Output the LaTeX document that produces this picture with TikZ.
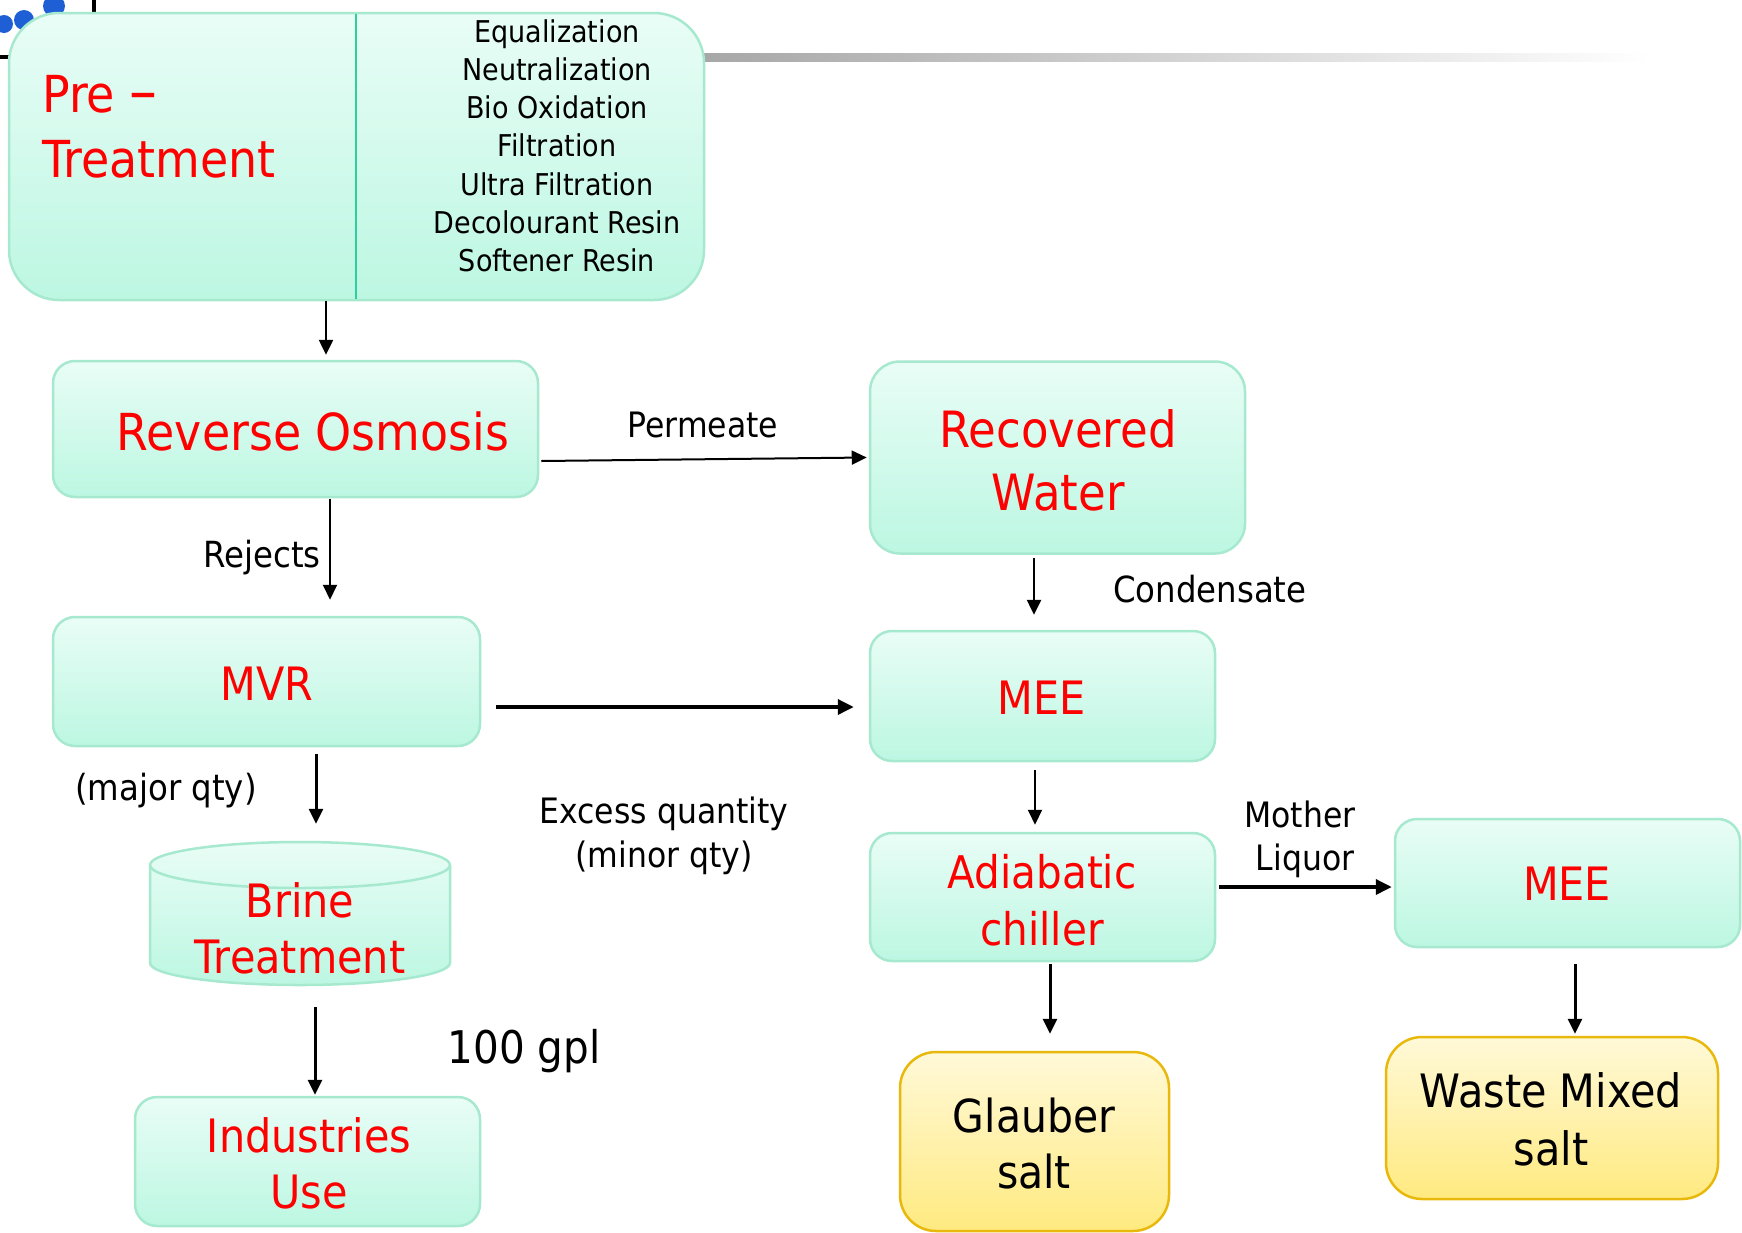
\documentclass[tikz,border=0pt]{standalone}
\usepackage{fontspec}
\setmainfont{DejaVu Sans}[FakeStretch=0.9]
\usetikzlibrary{arrows.meta,calc}

\definecolor{tealline}{HTML}{A6E9CF}
\definecolor{tealtop}{HTML}{E9FDF6}
\definecolor{tealbot}{HTML}{BCF7E2}
\definecolor{divider}{HTML}{2ECF9C}
\definecolor{goldline}{HTML}{E8B90C}
\definecolor{goldtop}{HTML}{FFF9D8}
\definecolor{goldbot}{HTML}{FFEA80}
\definecolor{dotblue}{HTML}{1F5FD6}

% stacked centred lines with a fixed baseline distance; baseline = first line
\newcommand\stk[2][60]{\vtop{\baselineskip=#1pt\halign{\hfil##\hfil\cr#2\crcr}}}
\newcommand\fsz[1]{\fontsize{#1}{#1}\selectfont}

\tikzset{
  tealbox/.style={draw=tealline, line width=2.5pt, top color=tealtop,
    bottom color=tealbot, rounded corners=22pt, inner sep=0pt},
  goldbox/.style={draw=goldline, line width=2.5pt, top color=goldtop,
    bottom color=goldbot, rounded corners=36pt, inner sep=0pt},
  redtxt/.style={text=red, inner sep=0pt, anchor=base},
  blktxt/.style={text=black, inner sep=0pt, anchor=base},
  arr/.style={-{Triangle[length=15pt,width=14pt]}, line width=2.5pt},
  arrthick/.style={-{Triangle[length=16pt,width=15pt]}, line width=3.5pt},
}

\begin{document}
\begin{tikzpicture}[x=1pt, y=-1pt]
\useasboundingbox (0,0) rectangle (1742,1232);

% slide decoration behind the first box
\fill[dotblue] (4,24) circle[radius=9pt];
\fill[dotblue] (24,20) circle[radius=10pt];
\fill[dotblue] (54,6) circle[radius=11pt];
\draw[line width=4pt] (94,0) -- (94,20);
\draw[line width=4pt] (0,57) -- (20,57);
\shade[left color=black!35, right color=white] (690,53) rectangle (1650,61);

% pre-treatment block
\node[tealbox, rounded corners=50pt, minimum width=695pt, minimum height=287pt]
  (pre) at (356.5,156.5) {};
\draw[divider, line width=2pt] (356,14) -- (356,299);
\node[redtxt, anchor=base west, align=left] (pretxt) at (42,112)
  {\fsz{51}\vtop{\baselineskip=65pt\hbox{Pre {\fontsize{62}{62}\selectfont –}}\hbox{Treatment}}};
\node[blktxt] (steps) at (557,42) {\fsz{30}\stk[38.3]{Equalization\cr
  Neutralization\cr Bio Oxidation\cr Filtration\cr Ultra Filtration\cr
  Decolourant Resin\cr Softener Resin}};

% process boxes
\node[tealbox, minimum width=485pt, minimum height=136pt] (ro) at (295.5,429) {};
\node[redtxt] (rotxt) at (313,450) {\fsz{51}Reverse Osmosis};

\node[tealbox, rounded corners=30pt, minimum width=375pt, minimum height=192pt] (rw) at (1057.5,457.5) {};
\node[redtxt] (rwtxt) at (1058,447) {\fsz{50}\stk[63]{Recovered\cr Water}};

\node[tealbox, minimum width=427pt, minimum height=129pt] (mvr) at (266.5,681.5) {};
\node[redtxt] (mvrtxt) at (267,700) {\fsz{46}MVR};

\node[tealbox, minimum width=345pt, minimum height=130pt] (meea) at (1042.5,696) {};
\node[redtxt] (meeatxt) at (1042,714) {\fsz{46}MEE};

\node[tealbox, minimum width=345pt, minimum height=128pt] (adia) at (1042.5,897) {};
\node[redtxt] (adiatxt) at (1042,888) {\fsz{45}\stk[57]{Adiabatic\cr chiller}};

\node[tealbox, minimum width=345pt, minimum height=128pt] (meeb) at (1567.5,883) {};
\node[redtxt] (meebtxt) at (1567,900) {\fsz{46}MEE};

% brine treatment tank
\path[draw=tealline, line width=2.5pt, top color=tealtop, bottom color=tealbot]
  (150,865) -- (150,963) arc[start angle=180, end angle=360, x radius=150pt, y radius=22pt]
  -- (450,865) arc[start angle=0, end angle=180, x radius=150pt, y radius=23pt] -- cycle;
\draw[tealline, line width=2.5pt] (150,865)
  arc[start angle=180, end angle=360, x radius=150pt, y radius=23pt];
\node[inner sep=0pt, minimum width=300pt, minimum height=143pt] (brine) at (300,913.5) {};
\node[redtxt] (brinetxt) at (300,917) {\fsz{46}\stk[56]{Brine\cr Treatment}};

\node[tealbox, minimum width=345pt, minimum height=129pt] (ind) at (307.5,1161.5) {};
\node[redtxt] (indtxt) at (309,1152) {\fsz{46}\stk[56]{Industries\cr Use}};

% salt products
\node[goldbox, minimum width=269pt, minimum height=179pt] (gl) at (1034.5,1141.5) {};
\node[blktxt] (gltxt) at (1034,1132) {\fsz{45.5}\stk[56]{Glauber\cr salt}};

\node[goldbox, minimum width=332pt, minimum height=162pt] (waste) at (1552,1118) {};
\node[blktxt] (wastetxt) at (1551,1107) {\fsz{46}\stk[58]{Waste Mixed\cr salt}};

% connectors
\draw[arr] ($(pre.south)+(-30.5,0)$) -- ($(ro.north)+(30.5,-5)$);
\draw[arr, line width=2pt] ($(ro.east)+(2,32)$) -- ($(rw.west)+(-2,0)$);
\draw[arr, line width=2pt] ($(ro.south)+(34.5,1)$) -- ($(mvr.north)+(63.5,-16)$);
\draw[arr] ($(rw.south)+(-23.5,3)$) -- ($(meea.north)+(-8.5,-15)$);
\draw[arrthick] ($(mvr.east)+(15,25.5)$) -- ($(meea.west)+(-15,11)$);
\draw[arr, line width=3pt] ($(mvr.south)+(49.5,7)$) -- ($(brine.north)+(16,-18)$);
\draw[arr, line width=3pt] ($(brine.south)+(15,22)$) -- ($(ind.north)+(7.5,-1)$);
\draw[arr, line width=2pt] ($(meea.south)+(-7.5,8)$) -- ($(adia.north)+(-7.5,-7)$);
\draw[arrthick] ($(adia.east)+(3,-10)$) -- ($(meeb.west)+(-2,4)$);
\draw[arr, line width=3pt] ($(adia.south)+(7.5,2)$) -- ($(gl.north)+(15.5,-17)$);
\draw[arr, line width=3pt] ($(meeb.south)+(7.5,16)$) -- ($(waste.north)+(23,-2)$);

% connector labels
\node[blktxt] (lperm) at (703,437) {\fsz{35}Permeate};
\node[blktxt, anchor=base east] (lrej) at (321,567) {\fsz{36}Rejects};
\node[blktxt, anchor=base west] (lcond) at (1113,602) {\fsz{36}Condensate};
\node[blktxt] (lmajor) at (166,800) {\fsz{36}(major qty)};
\node[blktxt] (lexcess) at (664,823) {\fsz{35}\stk[44]{Excess quantity\cr (minor qty)}};
\node[blktxt] (lmother) at (1300,827) {\fsz{35}\stk[43]{Mother\cr \ Liquor}};
\node[blktxt] (lgpl) at (524,1063) {\fsz{45}100 gpl};
\end{tikzpicture}
\end{document}
